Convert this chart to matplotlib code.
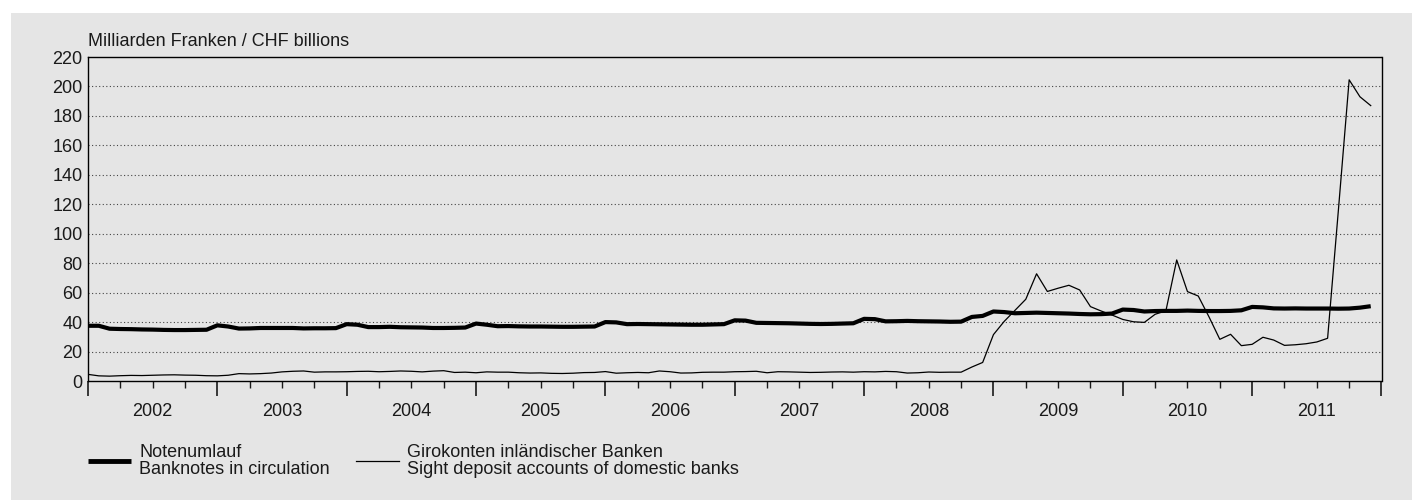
import numpy as np
import matplotlib
matplotlib.use('Agg')
import matplotlib.pyplot as plt
from matplotlib.patches import Rectangle

# monthly values, end of month, Dec 2001 .. Nov 2011 (CHF bn)
first_year = 2002
years = list(range(2002, 2012))

banknotes = [
    37.5, 37.5, 35.5, 35.3, 35.2, 35.0, 34.9, 34.7, 34.6, 34.6, 34.7, 34.8,
    37.8, 37.0, 35.6, 35.7, 36.0, 36.0, 36.0, 36.0, 35.7, 35.8, 35.8, 35.9,
    38.6, 38.2, 36.6, 36.6, 36.8, 36.5, 36.4, 36.3, 36.0, 36.0, 36.1, 36.3,
    39.0, 38.2, 37.2, 37.3, 37.1, 37.0, 37.0, 36.9, 36.8, 36.8, 36.9, 37.0,
    40.0, 39.8, 38.6, 38.7, 38.6, 38.5, 38.4, 38.3, 38.2, 38.2, 38.4, 38.6,
    41.2, 41.0, 39.5, 39.4, 39.3, 39.2, 39.0, 38.8, 38.7, 38.8, 39.0, 39.2,
    42.2, 42.0, 40.5, 40.6, 40.8, 40.6, 40.5, 40.4, 40.2, 40.3, 43.5, 44.2,
    47.2, 46.8, 46.0, 46.2, 46.4, 46.2, 46.0, 45.8, 45.5, 45.3, 45.4, 45.8,
    48.5, 48.2, 47.2, 47.5, 47.6, 47.6, 47.8, 47.6, 47.5, 47.5, 47.6, 48.0,
    50.3, 50.0, 49.3, 49.2, 49.3, 49.2, 49.2, 49.2, 49.1, 49.2, 49.8, 50.8,
]

sight_deposits = [
    4.5, 3.5, 3.3, 3.6, 3.8, 3.7, 3.9, 4.1, 4.2, 4.0, 3.9, 3.6,
    3.5, 3.9, 5.0, 4.8, 5.0, 5.4, 6.2, 6.6, 6.8, 6.0, 6.2, 6.2,
    6.3, 6.5, 6.6, 6.3, 6.5, 6.8, 6.6, 6.2, 6.7, 7.0, 5.8, 6.0,
    5.6, 6.2, 6.0, 6.0, 5.6, 5.4, 5.5, 5.2, 5.1, 5.3, 5.7, 5.8,
    6.4, 5.3, 5.6, 5.8, 5.6, 6.8, 6.3, 5.4, 5.5, 5.9, 6.0, 6.0,
    6.3, 6.4, 6.6, 5.6, 6.3, 6.2, 6.0, 5.8, 5.9, 6.1, 6.2, 6.0,
    6.3, 6.2, 6.5, 6.3, 5.4, 5.6, 6.1, 5.9, 6.0, 6.0, 9.5, 12.6,
    31.5, 40.5, 48.0, 55.5, 72.8, 60.8, 63.0, 65.0, 61.8, 50.5, 47.5, 44.8,
    41.8, 40.2, 39.8, 45.3, 47.7, 82.2, 60.7, 57.7, 43.5, 28.3, 31.7, 24.0,
    24.9, 29.7, 27.8, 24.2, 24.6, 25.3, 26.5, 29.0, 116.0, 204.5, 193.0, 187.0,
]

label_notes = 'Notenumlauf\nBanknotes in circulation'
label_sight = 'Girokonten inländischer Banken\nSight deposit accounts of domestic banks'
unit_text = 'Milliarden Franken / CHF billions'

bg = '#e5e5e5'
ink = '#1a1a1a'
fs = 13
plt.rcParams['font.family'] = ['Liberation Sans', 'DejaVu Sans']
plt.rcParams['font.size'] = fs

x = first_year + np.arange(len(banknotes)) / 12

fig = plt.figure(figsize=(14.12, 5.0), dpi=100)
fig.patches.append(Rectangle((11 / 1412, 0), 1, 1 - 13 / 500, transform=fig.transFigure,
                             facecolor=bg, edgecolor='none', zorder=-10))
ax = fig.add_axes([88 / 1412, 1 - 381 / 500, (1381.5 - 88) / 1412, (381 - 57) / 500])
ax.set_facecolor(bg)

ax.plot(x, sight_deposits, color='black', lw=0.9, label=label_sight, zorder=3)
ax.plot(x, banknotes, color='black', lw=3.0, label=label_notes, zorder=4,
        solid_capstyle='butt')

ax.set_xlim(2002, 2012)
ax.set_ylim(0, 220)
ax.set_yticks(range(0, 221, 20))
ax.tick_params(axis='y', length=0, pad=4, labelsize=fs, labelcolor=ink)
for v in range(20, 220, 20):
    ax.axhline(v, color='#444444', lw=0.8, ls=(0, (1, 2.2)), zorder=1)

ax.set_xticks(years + [2012])
ax.set_xticklabels([''] * (len(years) + 1))
minor = [y + q for y in years for q in (0.25, 0.5, 0.75)]
ax.set_xticks(minor, minor=True)
ax.set_xticklabels([str(int(m)) if m % 1 == 0.5 else '' for m in minor], minor=True)
ax.tick_params(axis='x', which='major', direction='out', length=11, width=1.2, color=ink)
ax.tick_params(axis='x', which='minor', direction='out', length=5, width=1.0, color=ink,
               pad=11, labelsize=fs, labelcolor=ink)

for s in ax.spines.values():
    s.set_color('black')
    s.set_linewidth(1.0)

fig.text(88 / 1412, 1 - 46 / 500, unit_text, fontsize=fs, color=ink, va='baseline')

handles, labels = ax.get_legend_handles_labels()
leg = fig.legend(handles[::-1], labels[::-1], loc='upper left',
                 bbox_to_anchor=(88 / 1412, 1 - 444 / 500), ncol=2, frameon=False,
                 fontsize=fs, handlelength=2.37, handletextpad=0.46, columnspacing=1.45,
                 borderpad=0, borderaxespad=0, labelspacing=0)
for t in leg.get_texts():
    t.set_color(ink)
    t.set_linespacing(1.0)
leg.get_lines()[0].set_linewidth(3.5)

fig.savefig('out.png', dpi=100)
